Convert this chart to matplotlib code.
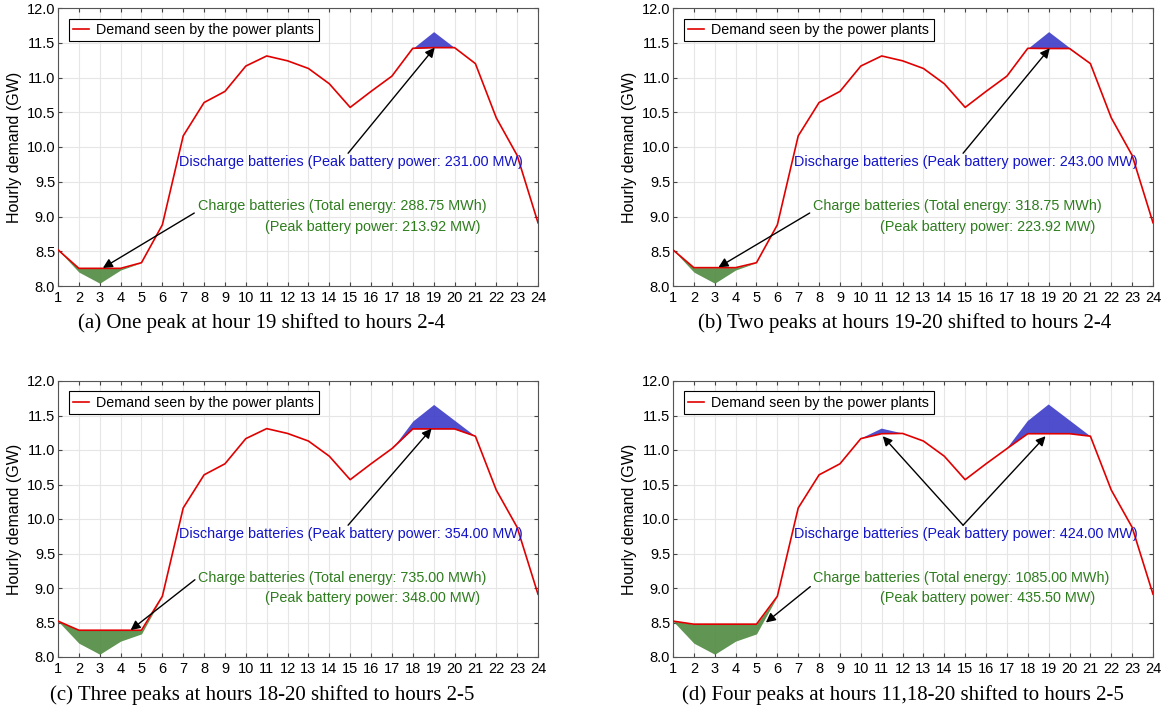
import matplotlib
matplotlib.use('Agg')
import matplotlib.pyplot as plt
import numpy as np

plt.rcParams['font.family'] = ['Liberation Sans', 'DejaVu Sans']

# hourly demand before any battery use (GW)
hours = np.arange(1, 25)
demand = np.array([8.52, 8.20, 8.04, 8.23, 8.335, 8.88, 10.16, 10.64, 10.80, 11.165,
                   11.31, 11.24, 11.13, 10.91, 10.57, 10.80, 11.02, 11.42, 11.66, 11.43,
                   11.20, 10.42, 9.88, 8.91])

# per panel: hours charged / level, hours discharged / level
charge_hours = [[2, 3, 4], [2, 3, 4], [2, 3, 4, 5], [2, 3, 4, 5]]
charge_level = [8.254, 8.264, 8.388, 8.4755]
discharge_hours = [[19], [19, 20], [18, 19, 20], [11, 18, 19, 20]]
discharge_level = [11.43, 11.417, 11.306, 11.236]

total_energy = ['288.75', '318.75', '735.00', '1085.00']
charge_peak = ['213.92', '223.92', '348.00', '435.50']
discharge_peak = ['231.00', '243.00', '354.00', '424.00']

captions = ['(a) One peak at hour 19 shifted to hours 2-4',
            '(b) Two peaks at hours 19-20 shifted to hours 2-4',
            '(c) Three peaks at hours 18-20 shifted to hours 2-5',
            '(d) Four peaks at hours 11,18-20 shifted to hours 2-5']

# arrow end points for the charge / discharge annotations
charge_arrow_from = [(7.53, 9.05), (7.55, 9.05), (7.56, 9.12), (7.58, 9.02)]
charge_arrow_to = [(3.15, 8.26), (3.18, 8.27), (4.48, 8.39), (5.45, 8.5)]
discharge_arrow_to = [[(19.05, 11.43)], [(19.05, 11.42)], [(18.9, 11.31)],
                      [(11.05, 11.2), (18.85, 11.2)]]

W, H = 1167, 718
fig = plt.figure(figsize=(W / 100, H / 100), dpi=100)

ax_boxes = [(58, 8, 538, 286), (673, 8, 1153, 286),
            (58, 381, 538, 657), (673, 381, 1153, 657)]
caption_pos = [(262, 323), (905, 323), (262, 695), (903, 695)]

red = '#E00000'
blue_fill = '#3C3CC8'
green_fill = '#4F8A40'
blue_txt = '#1414C8'
green_txt = '#2F7D1F'

for i, (x0, y0, x1, y1) in enumerate(ax_boxes):
    ax = fig.add_axes([x0 / W, 1 - y1 / H, (x1 - x0) / W, (y1 - y0) / H])

    seen = demand.copy()
    seen[np.array(charge_hours[i]) - 1] = charge_level[i]
    seen[np.array(discharge_hours[i]) - 1] = discharge_level[i]

    up = np.maximum(demand, seen)
    lo = np.minimum(demand, seen)
    ax.fill_between(hours, seen, up, where=up > seen, interpolate=True,
                    color=blue_fill, alpha=0.9, linewidth=0, zorder=2)
    ax.fill_between(hours, lo, seen, where=lo < seen, interpolate=True,
                    color=green_fill, alpha=0.9, linewidth=0, zorder=2)
    ax.plot(hours, seen, color=red, lw=1.2, zorder=3,
            label='Demand seen by the power plants')

    ax.set_xlim(1, 24)
    ax.set_ylim(8, 12)
    ax.set_xticks(hours)
    ax.set_yticks(np.arange(8, 12.01, 0.5))
    ax.yaxis.set_major_formatter(matplotlib.ticker.FormatStrFormatter('%.1f'))
    ax.grid(True, color='#E6E6E6', lw=0.8)
    ax.set_axisbelow(True)
    ax.tick_params(direction='in', length=3, top=True, right=True,
                   labelsize=10.5, color='#444444')
    ax.tick_params(axis='y', pad=2)
    for s in ax.spines.values():
        s.set_color('#555555')
        s.set_linewidth(0.8)
    ax.set_ylabel('Hourly demand (GW)', fontsize=11.5, labelpad=3)

    leg = ax.legend(loc='upper left', bbox_to_anchor=(0.022, 0.962), borderaxespad=0,
                    fancybox=False, edgecolor='black', framealpha=1, fontsize=10.3,
                    handlelength=1.1, handletextpad=0.55, borderpad=0.3)
    leg.get_frame().set_linewidth(0.8)

    # discharge annotation
    ax.text(15.05, 9.78, 'Discharge batteries (Peak battery power: %s MW)' % discharge_peak[i],
            color=blue_txt, fontsize=10.4, ha='center', va='center', zorder=4)
    for end in discharge_arrow_to[i]:
        ax.annotate('', xy=end, xytext=(14.9, 9.91),
                    arrowprops=dict(arrowstyle='-|>', color='black', lw=1,
                                    mutation_scale=14, shrinkA=0, shrinkB=0), zorder=5)

    # charge annotation
    ax.text(7.7, 9.15, 'Charge batteries (Total energy: %s MWh)' % total_energy[i],
            color=green_txt, fontsize=10.4, ha='left', va='center', zorder=4)
    ax.text(10.93, 8.85, '(Peak battery power: %s MW)' % charge_peak[i],
            color=green_txt, fontsize=10.4, ha='left', va='center', zorder=4)
    ax.annotate('', xy=charge_arrow_to[i], xytext=charge_arrow_from[i],
                arrowprops=dict(arrowstyle='-|>', color='black', lw=1,
                                mutation_scale=14, shrinkA=0, shrinkB=0), zorder=5)

    cx, cy = caption_pos[i]
    fig.text(cx / W, 1 - cy / H, captions[i], ha='center', va='center',
             fontsize=15, family=['Liberation Serif', 'DejaVu Serif'])

fig.savefig('out.png', dpi=100)
